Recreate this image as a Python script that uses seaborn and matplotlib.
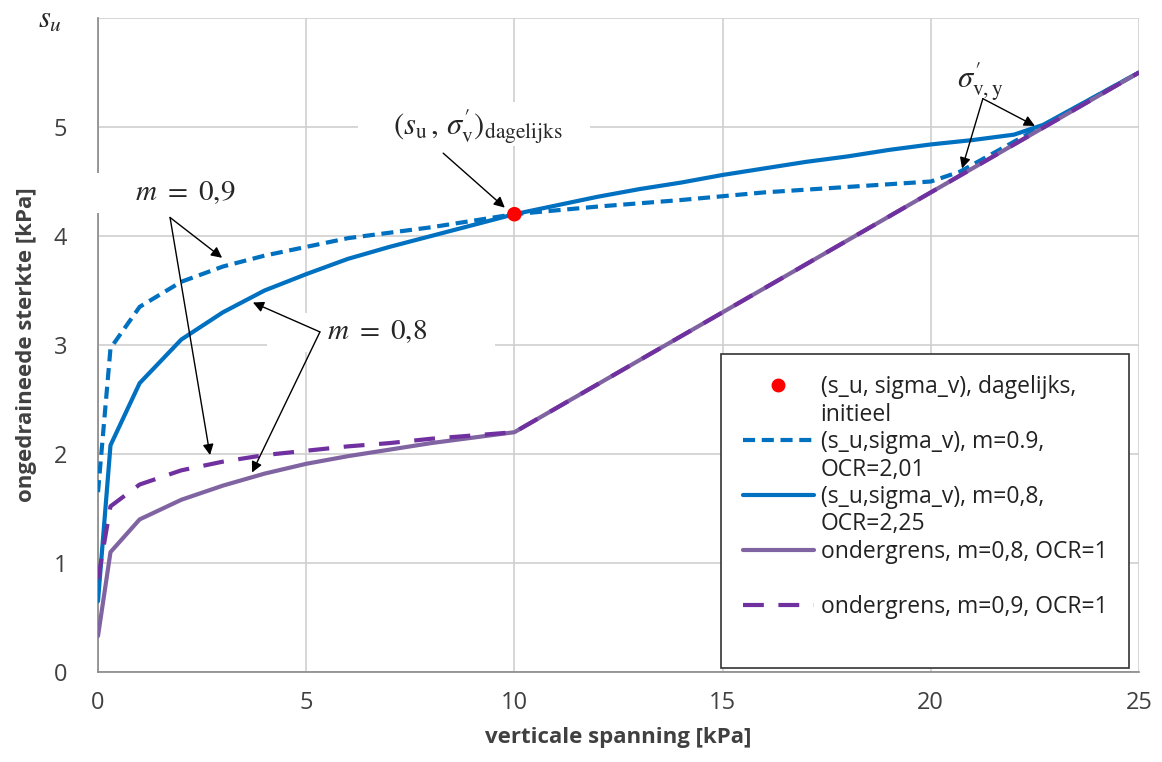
import matplotlib
matplotlib.use("Agg")
import matplotlib.pyplot as plt
import seaborn as sns
import pandas as pd
from matplotlib.lines import Line2D
from matplotlib.patches import Rectangle

# ---------------- data ----------------
x_m09_ocr = [0, 0.3, 1, 2, 3, 4, 5, 6, 7, 8, 9, 10, 12, 14, 16, 18, 20, 20.7, 25]
y_m09_ocr = [1.65, 2.97, 3.35, 3.58, 3.72, 3.82, 3.90, 3.98, 4.03, 4.08, 4.14, 4.20,
             4.27, 4.33, 4.40, 4.45, 4.50, 4.59, 5.50]

x_m08_ocr = [0, 0.3, 1, 2, 3, 4, 5, 6, 7, 8, 9, 10, 11, 12, 13, 14, 15, 16, 17, 18,
             19, 20, 21, 22, 22.7, 25]
y_m08_ocr = [0.65, 2.08, 2.65, 3.05, 3.30, 3.50, 3.65, 3.79, 3.90, 4.00, 4.10, 4.20,
             4.28, 4.36, 4.43, 4.49, 4.56, 4.62, 4.68, 4.73, 4.79, 4.84, 4.88, 4.93,
             5.02, 5.50]

x_lower_08 = [0, 0.3, 1, 2, 3, 4, 5, 6, 7, 8, 9, 10, 25]
y_lower_08 = [0.33, 1.10, 1.40, 1.58, 1.71, 1.82, 1.91, 1.98, 2.04, 2.10, 2.15, 2.20, 5.50]

x_lower_09 = [0, 0.3, 1, 2, 3, 4, 5, 6, 7, 8, 9, 10, 25]
y_lower_09 = [0.85, 1.52, 1.72, 1.85, 1.93, 1.99, 2.03, 2.07, 2.10, 2.14, 2.17, 2.20, 5.50]

x_daily = [10]
y_daily = [4.2]

x_ticks = [0, 5, 10, 15, 20, 25]
y_ticks = [0, 1, 2, 3, 4, 5]

legend_labels = ["(s_u, sigma_v), dagelijks,", "initieel",
                 "(s_u,sigma_v), m=0.9,", "OCR=2,01",
                 "(s_u,sigma_v), m=0,8,", "OCR=2,25",
                 "ondergrens, m=0,8, OCR=1", "",
                 "ondergrens, m=0,9, OCR=1", ""]

BLUE = "#0070C0"
PURPLE_S = "#8064A2"
PURPLE_D = "#7030A0"
GRID = "#CFCFCF"
AXC = "#888888"
TXT = "#404040"

# ---------------- style ----------------
sns.set_style("white")
plt.rcParams["font.family"] = ["Open Sans", "DejaVu Sans"]
plt.rcParams["mathtext.fontset"] = "stix"

fig = plt.figure(figsize=(11.62, 7.62), dpi=100)
ax = fig.add_axes([98 / 1162, 1 - 672 / 762, (1139 - 98) / 1162, (672 - 18) / 762])

df1 = pd.DataFrame({"x": x_m09_ocr, "y": y_m09_ocr})
df2 = pd.DataFrame({"x": x_m08_ocr, "y": y_m08_ocr})
df3 = pd.DataFrame({"x": x_lower_08, "y": y_lower_08})
df4 = pd.DataFrame({"x": x_lower_09, "y": y_lower_09})

sns.lineplot(data=df2, x="x", y="y", ax=ax, color=BLUE, lw=3, sort=False, zorder=3)
sns.lineplot(data=df1, x="x", y="y", ax=ax, color=BLUE, lw=3, sort=False,
             linestyle=(0, (2.9, 1.6)), zorder=3)
sns.lineplot(data=df3, x="x", y="y", ax=ax, color=PURPLE_S, lw=3, sort=False, zorder=4)
sns.lineplot(data=df4, x="x", y="y", ax=ax, color=PURPLE_D, lw=3, sort=False,
             linestyle=(0, (5, 3.5)), zorder=5)
sns.scatterplot(x=x_daily, y=y_daily, ax=ax, color="#FF0000", s=110, edgecolor="none",
                zorder=8)

ax.set_xlim(0, 25)
ax.set_ylim(0, 6)
ax.set_xticks(x_ticks)
ax.set_yticks(y_ticks + [6])
ax.set_yticklabels([str(t) for t in y_ticks] + [""])
ax.grid(True, color=GRID, lw=1.2, zorder=0)
ax.set_axisbelow(True)
for s in ["top", "right"]:
    ax.spines[s].set_visible(False)
for s in ["left", "bottom"]:
    ax.spines[s].set_color(AXC)
    ax.spines[s].set_linewidth(1.2)
ax.tick_params(axis="both", which="both", length=6, width=1.2, color=AXC,
               labelsize=17, labelcolor=TXT, direction="out")
ax.tick_params(axis="y", pad=16)
ax.tick_params(axis="x", pad=8)

ax.set_xlabel("verticale spanning [kPa]", fontsize=16, fontweight="bold",
              color=TXT, labelpad=8)
ax.set_ylabel("ongedraineede sterkte [kPa]", fontsize=16, fontweight="bold",
              color=TXT, labelpad=12)

# ---------------- annotations ----------------
aprops = dict(arrowstyle="-|>", color="black", lw=1, mutation_scale=16,
              shrinkA=0, shrinkB=0)

def white_box(x0, x1, y0, y1):
    ax.add_patch(Rectangle((x0, y0), x1 - x0, y1 - y0, facecolor="white",
                           edgecolor="none", zorder=5, clip_on=False))

ax.text(-1.15, 5.98, r"$s_u$", fontsize=22, ha="center", va="center",
        clip_on=False)

white_box(6.24, 11.82, 4.83, 5.23)
ax.text(9.13, 5.0, r"$(s_\mathrm{u}\,,\,\sigma^{\prime}_\mathrm{v})_\mathrm{dagelijks}$",
        fontsize=22, ha="center", va="center", zorder=6)
ax.annotate("", xy=(9.77, 4.26), xytext=(8.29, 4.76), arrowprops=aprops, zorder=7)

white_box(-0.55, 4.73, 4.21, 4.58)
ax.text(2.09, 4.40, r"$m\ =\ 0{,}9$", fontsize=21, ha="center", va="center",
        zorder=6, clip_on=False)
ax.annotate("", xy=(2.98, 3.80), xytext=(1.73, 4.17), arrowprops=aprops, zorder=7)
ax.annotate("", xy=(2.69, 1.99), xytext=(1.73, 4.17), arrowprops=aprops, zorder=7)

white_box(4.06, 9.53, 2.94, 3.29)
ax.text(6.70, 3.12, r"$m\ =\ 0{,}8$", fontsize=21, ha="center", va="center",
        zorder=6)
ax.annotate("", xy=(3.72, 3.39), xytext=(5.33, 3.12), arrowprops=aprops, zorder=7)
ax.annotate("", xy=(3.70, 1.83), xytext=(5.33, 3.12), arrowprops=aprops, zorder=7)

ax.text(21.18, 5.42, r"$\sigma^{\prime}_\mathrm{v,y}$", fontsize=22, ha="center",
        va="center", zorder=6)
ax.annotate("", xy=(22.5, 5.01), xytext=(21.25, 5.26), arrowprops=aprops, zorder=7)
ax.annotate("", xy=(20.75, 4.62), xytext=(21.25, 5.26), arrowprops=aprops, zorder=7)

# ---------------- legend ----------------
blank = Line2D([], [], linestyle="none")
handles = [
    Line2D([], [], linestyle="none", marker="o", color="#FF0000", markersize=9),
    blank,
    Line2D([], [], color=BLUE, lw=3, linestyle=(0, (2.9, 1.6))),
    blank,
    Line2D([], [], color=BLUE, lw=3),
    blank,
    Line2D([], [], color=PURPLE_S, lw=3),
    blank,
    Line2D([], [], color=PURPLE_D, lw=3, linestyle=(0, (5, 3.5))),
    blank,
]
leg = ax.legend(handles, legend_labels, loc="lower right",
                bbox_to_anchor=(1129 / 1162, 1 - 668 / 762),
                bbox_transform=fig.transFigure, fontsize=16.5, frameon=True,
                fancybox=False, edgecolor="#333333", framealpha=1,
                handlelength=3.1, handletextpad=0.3, labelspacing=0.15,
                borderpad=0.95, borderaxespad=0)
leg.get_frame().set_linewidth(1.2)
leg.set_zorder(10)
for t in leg.get_texts():
    t.set_color("#222222")

fig.savefig("out.png", dpi=100)
